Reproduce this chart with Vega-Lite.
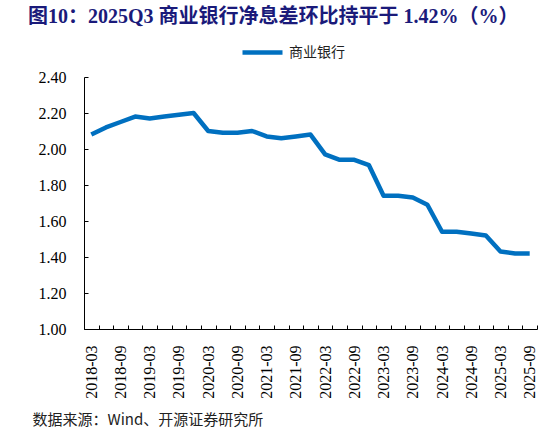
{
  "$schema": "https://vega.github.io/schema/vega-lite/v6.json",
  "width": 453,
  "height": 252,
  "autosize": {"type": "none"},
  "padding": {"left": 84, "top": 77, "right": 9, "bottom": 108},
  "background": "white",
  "title": {
    "text": "图10：2025Q3 商业银行净息差环比持平于 1.42%（%）",
    "anchor": "start",
    "dx": -4,
    "offset": 3,
    "font": "'Times New Roman', 'Liberation Serif', 'Noto Sans CJK SC', serif",
    "fontSize": 20,
    "fontWeight": "bold",
    "color": "#1a1a7a"
  },
  "data": {
    "values": [
      {"q": "2018-03", "nim": 2.08, "series": "商业银行"},
      {"q": "2018-06", "nim": 2.12, "series": "商业银行"},
      {"q": "2018-09", "nim": 2.15, "series": "商业银行"},
      {"q": "2018-12", "nim": 2.18, "series": "商业银行"},
      {"q": "2019-03", "nim": 2.17, "series": "商业银行"},
      {"q": "2019-06", "nim": 2.18, "series": "商业银行"},
      {"q": "2019-09", "nim": 2.19, "series": "商业银行"},
      {"q": "2019-12", "nim": 2.20, "series": "商业银行"},
      {"q": "2020-03", "nim": 2.10, "series": "商业银行"},
      {"q": "2020-06", "nim": 2.09, "series": "商业银行"},
      {"q": "2020-09", "nim": 2.09, "series": "商业银行"},
      {"q": "2020-12", "nim": 2.10, "series": "商业银行"},
      {"q": "2021-03", "nim": 2.07, "series": "商业银行"},
      {"q": "2021-06", "nim": 2.06, "series": "商业银行"},
      {"q": "2021-09", "nim": 2.07, "series": "商业银行"},
      {"q": "2021-12", "nim": 2.08, "series": "商业银行"},
      {"q": "2022-03", "nim": 1.97, "series": "商业银行"},
      {"q": "2022-06", "nim": 1.94, "series": "商业银行"},
      {"q": "2022-09", "nim": 1.94, "series": "商业银行"},
      {"q": "2022-12", "nim": 1.91, "series": "商业银行"},
      {"q": "2023-03", "nim": 1.74, "series": "商业银行"},
      {"q": "2023-06", "nim": 1.74, "series": "商业银行"},
      {"q": "2023-09", "nim": 1.73, "series": "商业银行"},
      {"q": "2023-12", "nim": 1.69, "series": "商业银行"},
      {"q": "2024-03", "nim": 1.54, "series": "商业银行"},
      {"q": "2024-06", "nim": 1.54, "series": "商业银行"},
      {"q": "2024-09", "nim": 1.53, "series": "商业银行"},
      {"q": "2024-12", "nim": 1.52, "series": "商业银行"},
      {"q": "2025-03", "nim": 1.43, "series": "商业银行"},
      {"q": "2025-06", "nim": 1.42, "series": "商业银行"},
      {"q": "2025-09", "nim": 1.42, "series": "商业银行"}
    ]
  },
  "mark": {"type": "line", "strokeWidth": 4.5, "strokeJoin": "round"},
  "encoding": {
    "x": {
      "field": "q",
      "type": "ordinal",
      "bandPosition": 0.5,
      "scale": {"type": "band", "paddingInner": 0, "paddingOuter": 0},
      "axis": {
        "title": "数据来源：Wind、开源证券研究所",
        "titleFont": "Noto Sans CJK SC",
        "titleFontSize": 15,
        "titleFontWeight": "normal",
        "titleColor": "#222222",
        "titleAnchor": "start",
        "titleAlign": "left",
        "titleX": -52,
        "titleY": 83,
        "labelAngle": 270,
        "labelExpr": "(substring(datum.value,5,7)=='03' || substring(datum.value,5,7)=='09') ? datum.value : ''",
        "labelPadding": 20,
        "tickBand": "extent"
      }
    },
    "y": {
      "field": "nim",
      "type": "quantitative",
      "scale": {"domain": [1, 2.4], "nice": false, "zero": false},
      "axis": {
        "title": null,
        "values": [1, 1.2, 1.4, 1.6, 1.8, 2, 2.2, 2.4],
        "format": ".2f",
        "labelPadding": 22
      }
    },
    "color": {
      "field": "series",
      "type": "nominal",
      "scale": {"range": ["#0070C0"]},
      "legend": {
        "title": null,
        "orient": "none",
        "legendX": 156,
        "legendY": -47,
        "symbolType": "stroke",
        "symbolSize": 1600,
        "symbolStrokeWidth": 4.5,
        "labelFont": "Noto Sans CJK SC",
        "labelFontSize": 14,
        "labelColor": "#222222"
      }
    }
  },
  "config": {
    "font": "Times New Roman",
    "view": {"stroke": null},
    "axis": {
      "labelFont": "'Times New Roman', 'Liberation Serif', serif",
      "labelFontSize": 16,
      "labelColor": "black",
      "tickSize": -4,
      "tickColor": "black",
      "domainColor": "black",
      "grid": false
    }
  }
}
